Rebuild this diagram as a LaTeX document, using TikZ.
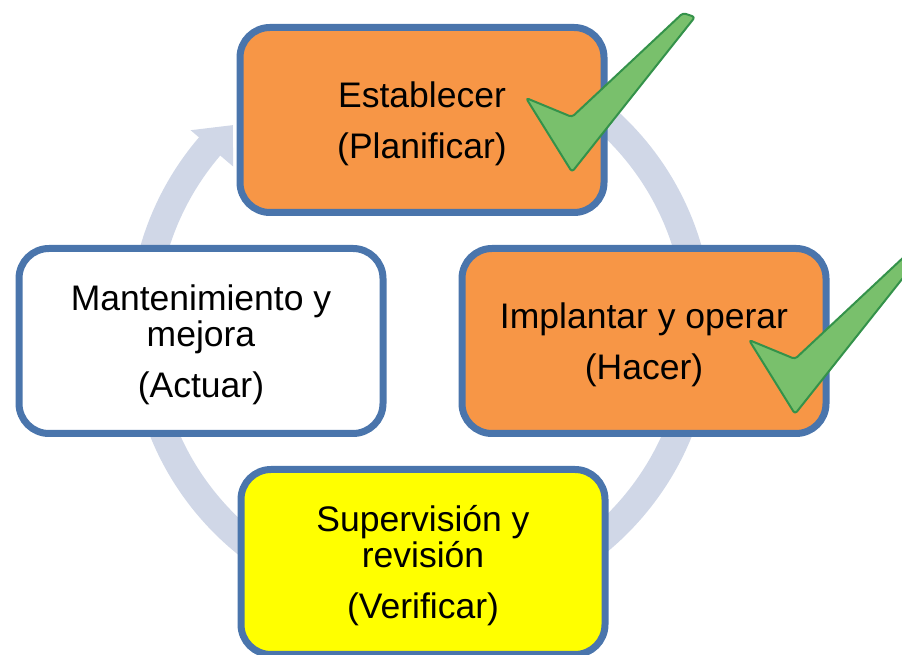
\documentclass[tikz,border=0pt]{standalone}
\usepackage{fontspec}
\setmainfont{Liberation Sans}
\definecolor{boxblue}{HTML}{4A75AC}
\definecolor{boxorange}{HTML}{F79646}
\definecolor{boxyellow}{HTML}{FFFF00}
\definecolor{ringgrey}{HTML}{D0D7E7}
\definecolor{checkfill}{HTML}{79C06C}
\definecolor{checkline}{HTML}{34924A}
\begin{document}
\begin{tikzpicture}[x=1pt,y=1pt,
  phase/.style={draw=boxblue, line width=7pt, rounded corners=30pt,
    minimum width=364pt, minimum height=185pt, inner sep=0pt},
  phasetext/.style={align=center, inner sep=0pt,
    font=\fontsize{35.5}{35.5}\selectfont, text=black},
  checkmark/.style={fill=checkfill, draw=checkline, line width=2pt,
    rounded corners=3pt, line join=round}]
\useasboundingbox (0,0) rectangle (902,655);
\clip (0,0) rectangle (902,655);
% cycle ring
\coordinate (c) at (421,328);
\draw[ringgrey, line width=28pt] ([shift={(138.5:278)}]c) arc[start angle=138.5, end angle=460, radius=278];
\fill[ringgrey] ([shift={(139.5:303)}]c) -- ([shift={(133:276)}]c) -- ([shift={(139.5:247)}]c) -- cycle;
% phases
\node[phase, fill=boxorange] (est) at (422,535) {};
\node[phase, fill=boxorange] (imp) at (644,314) {};
\node[phase, fill=white] (man) at (201,314) {};
\node[phase, fill=boxyellow] (sup) at (423,93) {};
\node[phasetext] (estT) at ([yshift=-4pt]est.center) {Establecer\\[16pt](Planificar)};
\node[phasetext] (impT) at ([yshift=-4pt]imp.center) {Implantar y operar\\[16pt](Hacer)};
\node[phasetext] (manT) at ([yshift=-4pt]man.center) {Mantenimiento y\\mejora\\[16pt](Actuar)};
\node[phasetext] (supT) at ([yshift=-4pt]sup.center) {Supervisión y\\revisión\\[16pt](Verificar)};
% check marks
\draw[checkmark] (526,557) -- (572,538) -- (683,642) -- (695,638) -- (572,483) -- cycle;
\begin{scope}[shift={(223,-242)}]
\draw[checkmark] (526,557) -- (572,538) -- (683,642) -- (695,638) -- (572,483) -- cycle;
\end{scope}
\end{tikzpicture}
\end{document}
